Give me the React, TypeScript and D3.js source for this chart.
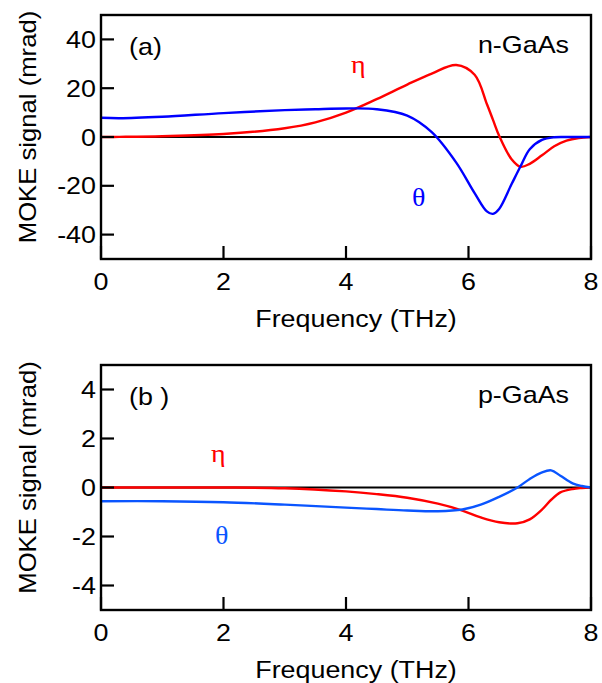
import * as d3 from "d3";

// panel (a) n-GaAs
const freqA = [0, 0.3, 1, 2, 3, 3.5, 4, 4.5, 5, 5.4, 5.8, 6.1, 6.3, 6.4, 6.5, 6.7, 6.85, 7.0, 7.2, 7.4, 7.6, 7.8, 8];
const etaA = [0, 0.05, 0.3, 1.2, 3.6, 6, 10, 15.5, 21.5, 26, 29.5, 25.5, 13.5, 7, 0.5, -9, -12.2, -11, -7.5, -3.8, -1.5, -0.4, 0];
const thetaA = [7.9, 7.7, 8.3, 9.8, 11, 11.4, 11.7, 11.4, 8.8, 2, -10.5, -23, -30.5, -31.5, -29.5, -19.5, -12, -5, -1.2, -0.1, 0, 0, 0];

// panel (b) p-GaAs
const freqB = [0, 1, 2, 3, 4, 4.5, 5, 5.5, 5.9, 6.2, 6.5, 6.8, 7.0, 7.2, 7.35, 7.5, 7.7, 7.85, 8];
const etaB = [0, 0, 0, -0.03, -0.16, -0.27, -0.42, -0.66, -0.94, -1.22, -1.42, -1.46, -1.3, -0.9, -0.5, -0.2, -0.06, -0.02, 0];
const thetaB = [-0.56, -0.56, -0.6, -0.7, -0.82, -0.88, -0.94, -0.97, -0.9, -0.7, -0.38, 0, 0.35, 0.62, 0.7, 0.48, 0.17, 0.06, 0];

const xTicks = [0, 2, 4, 6, 8];
const yTicksA = [-40, -20, 0, 20, 40];
const yTicksB = [-4, -2, 0, 2, 4];

const SANS = "'Liberation Sans', Arial, sans-serif";
const SERIF = "'Liberation Serif', 'Times New Roman', serif";

const STxt = ({ x, y, anchor = "start", size = 24, sx = 1.12, family = SANS, fill = "#000", rot = 0, children }: any) => (
  <text
    transform={`translate(${x},${y}) rotate(${rot}) scale(${sx},1)`}
    textAnchor={anchor}
    fontSize={size}
    fontFamily={family}
    fill={fill}
  >
    {children}
  </text>
);

const Panel = ({ top, bottom, domain, yTicks, freq, eta, theta, blue, tag, sample, etaPos, thetaPos }: any) => {
  const left = 101, right = 591;
  const x = d3.scaleLinear().domain([0, 8]).range([left, right]);
  const y = d3.scaleLinear().domain(domain).range([bottom, top]);
  const line = (vals: number[]) =>
    d3.line<number>()
      .x((_, i) => x(freq[i]))
      .y((d) => y(d))
      .curve(d3.curveCatmullRom.alpha(0.5))(vals) as string;
  const mid = (top + bottom) / 2;
  return (
    <g>
      {/* zero line */}
      <line x1={left} x2={right} y1={y(0)} y2={y(0)} stroke="#000" strokeWidth={2.2} />
      <path d={line(eta)} fill="none" stroke="#ff0000" strokeWidth={2.4} />
      <path d={line(theta)} fill="none" stroke={blue} strokeWidth={2.4} />
      <rect x={left} y={top} width={right - left} height={bottom - top} fill="none" stroke="#000" strokeWidth={2.4} />
      {yTicks.map((t: number) => (
        <g key={"y" + t}>
          <line x1={left} x2={left + 13} y1={y(t)} y2={y(t)} stroke="#000" strokeWidth={2.2} />
          <STxt x={96} y={y(t) + 8.5} anchor="end">{t}</STxt>
        </g>
      ))}
      {xTicks.map((t) => (
        <g key={"x" + t}>
          <line x1={x(t)} x2={x(t)} y1={bottom} y2={bottom - 13} stroke="#000" strokeWidth={2.2} />
          <STxt x={x(t)} y={bottom + 31} anchor="middle">{t}</STxt>
        </g>
      ))}
      <STxt x={356} y={bottom + 68} anchor="middle">Frequency (THz)</STxt>
      <STxt x={36} y={mid - 10} anchor="middle" rot={-90} sx={1.07}>MOKE signal (mrad)</STxt>
      <STxt x={129} y={top + 40}>{tag}</STxt>
      <STxt x={569} y={top + 38} anchor="end">{sample}</STxt>
      <STxt x={etaPos[0]} y={etaPos[1]} family={SERIF} size={25} fill="#ff0000">η</STxt>
      <STxt x={thetaPos[0]} y={thetaPos[1]} family={SERIF} size={25} fill={blue}>θ</STxt>
    </g>
  );
};

export default function App() {
  return (
    <svg width={602} height={683} style={{ position: "absolute", left: 0, top: 0, background: "#fff" }}>
      <Panel
        top={15} bottom={259} domain={[-50, 50]} yTicks={yTicksA}
        freq={freqA} eta={etaA} theta={thetaA} blue="#0000ff"
        tag="(a)" sample="n-GaAs" etaPos={[351, 73]} thetaPos={[412, 206]}
      />
      <Panel
        top={365} bottom={610} domain={[-5, 5]} yTicks={yTicksB}
        freq={freqB} eta={etaB} theta={thetaB} blue="#0a55ff"
        tag="(b )" sample="p-GaAs" etaPos={[211, 462]} thetaPos={[215, 544]}
      />
    </svg>
  );
}
